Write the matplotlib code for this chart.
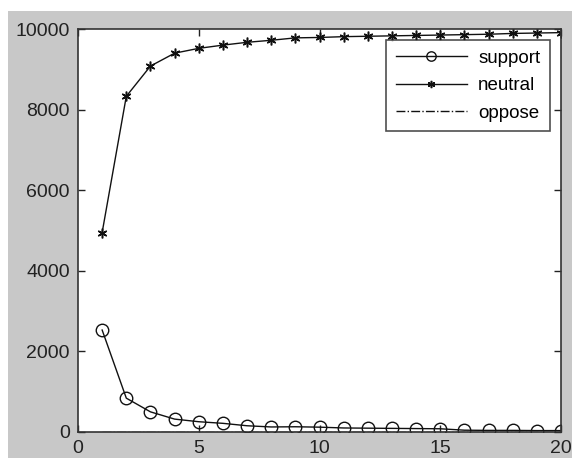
import matplotlib
matplotlib.use("Agg")
import matplotlib.pyplot as plt
from matplotlib.patches import Rectangle

# data
x = list(range(1, 21))
support = [2530, 840, 500, 320, 255, 215, 155, 125, 130, 120,
           100, 95, 90, 85, 80, 45, 40, 40, 35, 35]
neutral = [4950, 8330, 9080, 9400, 9520, 9600, 9670, 9720, 9780, 9790,
           9810, 9820, 9830, 9840, 9850, 9860, 9870, 9890, 9900, 9910]
oppose = [0] * 20

plt.rcParams["font.family"] = ["Liberation Sans", "DejaVu Sans"]

fig = plt.figure(figsize=(5.72, 4.58), dpi=100, facecolor="white")
# grey matlab-style figure area (white strip at top/left like the scan)
fig.patches.append(Rectangle((8 / 572, 0), 1, 1 - 11 / 458, transform=fig.transFigure,
                             facecolor="#c8c8c8", edgecolor="none", zorder=-10))

ax = fig.add_axes([78 / 572, 26 / 458, (561 - 78) / 572, (432 - 29) / 458])
ax.set_facecolor("white")

ax.plot(x, support, color="#111111", lw=1, marker="o", ms=9, mfc="none", mec="#111111",
        label="support")
ax.plot(x, neutral, color="#111111", lw=1, marker=(6, 2, 0), ms=7, mew=1.1,
        label="neutral")
ax.plot(x, oppose, color="#111111", lw=1, linestyle="-.", label="oppose")

ax.set_xlim(0, 20)
ax.set_ylim(0, 10000)
ax.set_xticks([0, 5, 10, 15, 20])
ax.set_yticks([0, 2000, 4000, 6000, 8000, 10000])
ax.tick_params(direction="in", length=5, width=1, top=True, right=True,
               labelsize=14, colors="#222222", pad=6)
for s in ax.spines.values():
    s.set_linewidth(1.2)
    s.set_color("#333333")

leg = ax.legend(loc="upper right", fontsize=13.5, frameon=True, fancybox=False,
                edgecolor="#222222", borderaxespad=0.6, handlelength=3.8,
                handletextpad=0.6, labelspacing=0.55, borderpad=0.5,
                markerscale=0.75)
leg.get_frame().set_linewidth(1.2)

fig.savefig("out.png", dpi=100, facecolor=fig.get_facecolor())
